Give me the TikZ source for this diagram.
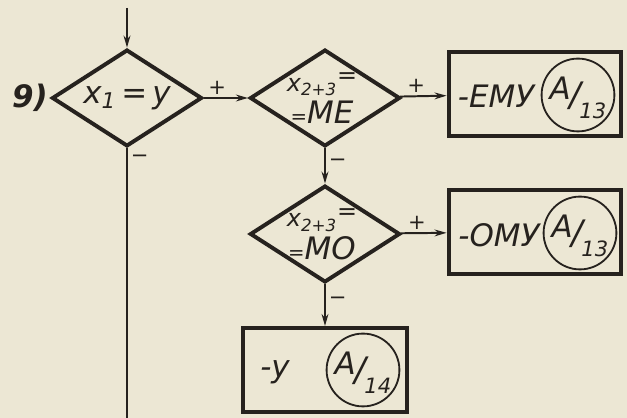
\documentclass[tikz,border=0pt]{standalone}
\usepackage{fontspec}
\setmainfont{DejaVu Sans}
\usetikzlibrary{shapes.geometric, arrows.meta}

\definecolor{paper}{RGB}{236,231,212}
\definecolor{ink}{RGB}{38,34,30}

% tag inside the circles: A / number
\newcommand{\refTag}[1]{{\fontsize{22}{22}\selectfont A}\kern-1pt\raisebox{-0.4ex}{\fontsize{24}{24}\selectfont /}\kern-1pt\raisebox{-1.1ex}{\fontsize{15}{15}\selectfont #1}}

\begin{document}
\begin{tikzpicture}[
    x=0.025cm, y=-0.025cm, every node/.style={text=ink, font=\fontsize{22}{24}\selectfont\itshape},
    cond/.style={diamond, draw=ink, line width=2.8pt, minimum width=3.75cm, minimum height=2.42cm, inner sep=0pt},
    outBox/.style={rectangle, draw=ink, line width=2.8pt, minimum width=4.32cm, minimum height=2.1cm},
    refCirc/.style={circle, draw=ink, line width=1.3pt, minimum size=1.82cm, inner sep=0pt},
    flow/.style={draw=ink, line width=1.4pt, -{Stealth[length=3mm,width=1.7mm]}},
    wire/.style={draw=ink, line width=1.4pt},
    sign/.style={font=\fontsize{15}{15}\selectfont, inner sep=2pt},
    condText/.style={align=center, inner sep=0pt}
]
    \fill[paper] (0,0) rectangle (627,418);
    \useasboundingbox (0,0) rectangle (627,418);

    \node[font=\fontsize{22}{24}\selectfont\bfseries\itshape] (num) at (30,98) {9)};

    % conditions
    \node[cond] (d1) at (127,98) {};
    \node[condText] (t1) at (d1) {\textit{x}\textsubscript{1}\,=\,у};
    \node[cond] (d2) at (325,98) {};
    \node[condText] (t2) at (322,98) {\fontsize{17}{17}\selectfont\textit{x}\textsubscript{2+3}\raisebox{0.6ex}{=}\\[-1pt]{\fontsize{14}{14}\selectfont=}МЕ};
    \node[cond] (d3) at (325,234) {};
    \node[condText] (t3) at (322,234) {\fontsize{17}{17}\selectfont\textit{x}\textsubscript{2+3}\raisebox{0.6ex}{=}\\[-1pt]{\fontsize{14}{14}\selectfont=}МО};

    % results
    \node[outBox] (b1) at (535,94) {};
    \node (w1) at (496,96) {-ЕМУ};
    \node[refCirc] (c1) at (578,95) {};
    \node at ([yshift=-2pt]c1) {\refTag{13}};

    \node[outBox] (b2) at (535,232) {};
    \node (w2) at (499,235) {-ОМУ};
    \node[refCirc] (c2) at (580,233) {};
    \node at ([yshift=-2pt]c2) {\refTag{13}};

    \node[outBox, minimum width=4.1cm] (b3) at (325,370) {};
    \node (w3) at (275,372) {-у};
    \node[refCirc] (c3) at (363,370) {};
    \node at ([yshift=-2pt]c3) {\refTag{14}};

    % connectors
    \coordinate (top) at (127,8);
    \coordinate (down) at (127,418);
    \draw[flow] (top) -- (d1);
    \draw[wire] (d1) -- node[sign, right, pos=0.04] {−} (down);
    \draw[flow] (d1) -- node[sign, above, pos=0.3] {+} (d2);
    \draw[flow] (d2) -- node[sign, above, pos=0.35] {+} (b1);
    \draw[flow] (d2) -- node[sign, right, pos=0.4] {−} (d3);
    \draw[flow] (d3) -- node[sign, above, pos=0.35] {+} (b2);
    \draw[flow] (d3) -- node[sign, right, pos=0.4] {−} (b3);
\end{tikzpicture}
\end{document}
